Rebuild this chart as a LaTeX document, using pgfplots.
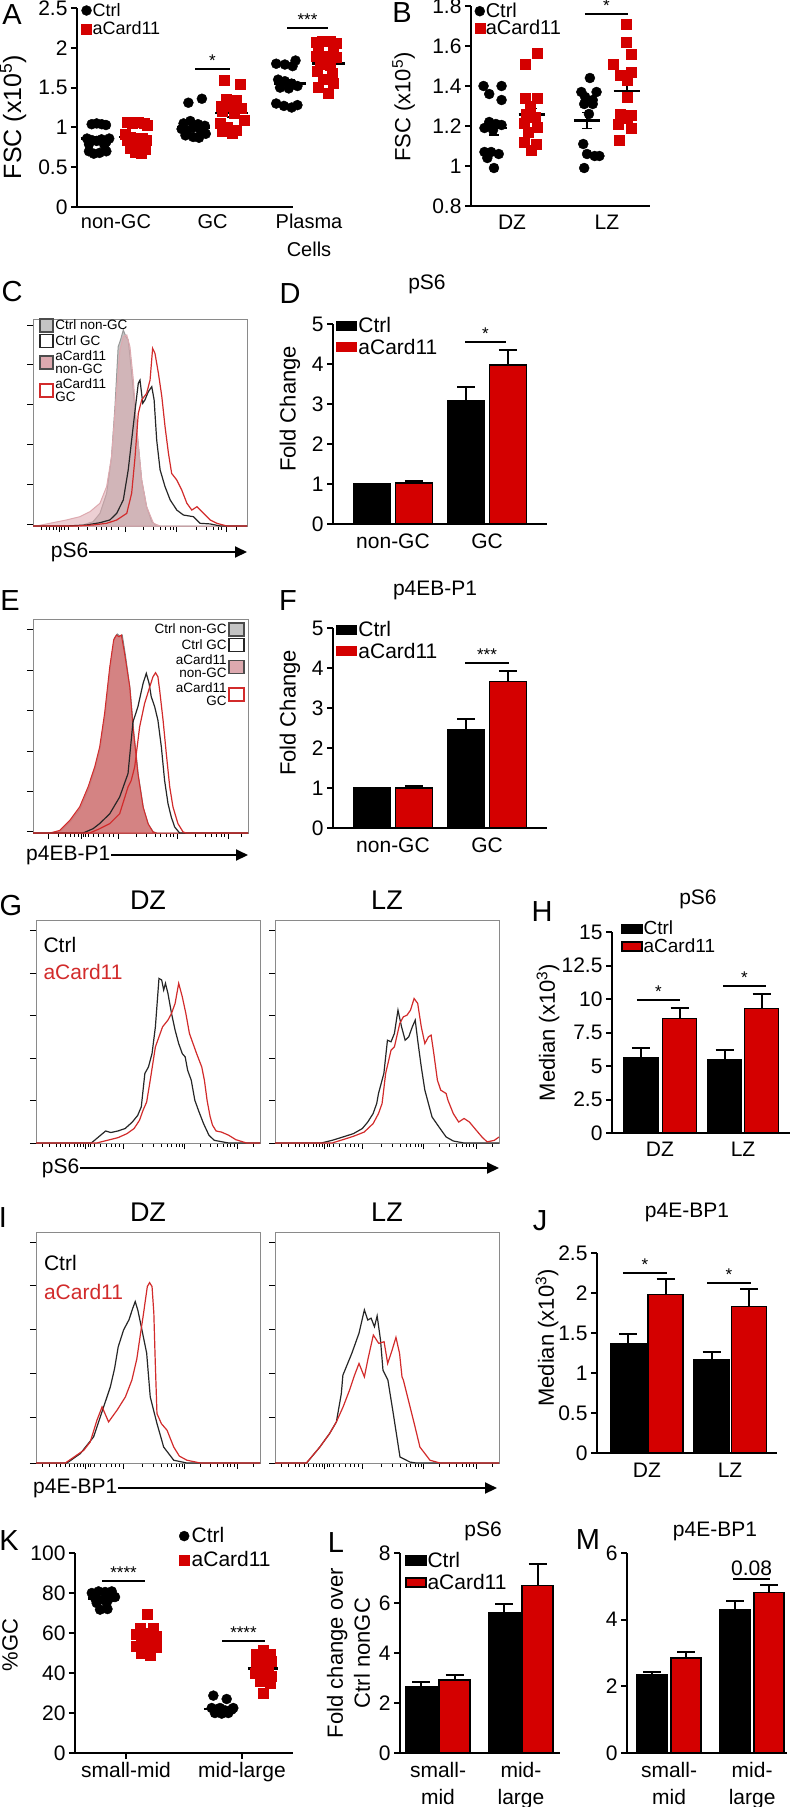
\documentclass[border=0pt]{standalone}
\usepackage{fontspec}
\setmainfont{Liberation Sans}
\usepackage{pgfplots}
\pgfplotsset{compat=1.18}
\usetikzlibrary{arrows.meta}

\definecolor{cred}{HTML}{D40000}
\definecolor{hred}{HTML}{D22B2B}
\definecolor{hblk}{HTML}{262626}
\definecolor{hgray}{HTML}{C4C4C4}
\definecolor{hpink}{HTML}{DDA9AF}
\definecolor{hsalmon}{HTML}{D77878}
\definecolor{fgray}{HTML}{8A8A8A}

\newcommand{\fs}[1]{\fontsize{#1}{#1}\selectfont}
% mean line + SEM whiskers (dot plots)
\newcommand{\meansem}[4]{%
  \draw[line width=2.5pt] (axis cs:#1-#4,#2) -- (axis cs:#1+#4,#2);
  \draw[line width=1.6pt] (axis cs:#1,#2-#3) -- (axis cs:#1,#2+#3);
  \draw[line width=1.6pt] (axis cs:#1-0.05,#2+#3) -- (axis cs:#1+0.05,#2+#3);
  \draw[line width=1.6pt] (axis cs:#1-0.05,#2-#3) -- (axis cs:#1+0.05,#2-#3);}
% significance bar
\newcommand{\sig}[4]{%
  \draw[line width=2pt] (axis cs:#1,#3) -- (axis cs:#2,#3)
    node[midway, above, inner sep=1.5pt, font=\fs{17}] {#4};}

\pgfplotsset{
  every axis/.append style={scale only axis, clip=false, anchor=south west,
    /pgf/number format/assume math mode=true},
  prism/.style={
    axis lines*=left,
    axis line style={line width=2pt},
    every outer x axis line/.append style={-},
    every outer y axis line/.append style={-},
    tick style={black, line width=2pt},
    tick align=outside, major tick length=6pt,
    xtick style={draw=none},
    tick label style={font=\fs{21}},
    ylabel style={font=\fs{22}, anchor=center},
    title style={font=\fs{21}, anchor=center},
    legend style={draw=none, fill=none, font=\fs{21}, inner sep=0pt,
      nodes={inner sep=1pt}},
    legend cell align=left,
  },
  barleg/.style={legend image code/.code={%
    \draw[##1, line width=1pt] (0pt,-4.5pt) rectangle (20pt,4.5pt);}},
  dotleg/.style={legend image code/.code={%
    \draw[##1] plot coordinates {(5pt,0pt)};}},
  pbar/.style={ybar, bar shift=0pt, bar width=#1, draw=black, line width=1.5pt,
    error bars/y dir=plus, error bars/y explicit,
    error bars/error mark=|,
    error bars/error bar style={line width=2pt, black},
    error bars/error mark options={line width=2pt, mark size=9pt, black}},
  histo/.style={
    xmin=0, xmax=100, ymin=0, ymax=100,
    axis line style={draw=fgray, line width=0.8pt},
    tick align=outside, xtick pos=left, ytick pos=left,
    major tick length=6pt, minor tick length=3.5pt,
    tick style={black, line width=1pt},
    xticklabels={}, yticklabels={},
    minor y tick num=4,
    title style={font=\fs{27}, anchor=center, at={(axis description cs:0.5,1.06)}},
  },
  gtick/.style={xtick={22.3,39,66.1,90},
    minor xtick={3,6,9,11,13,15,17,18.5,20,21,23.5,24.5,26,29,31.5,33.5,35.5,37.2,47.5,52.5,56,58.5,60.5,62.5,64,65.2,73.5,78,81,83.5,85.5,87,88.5,97}},
}

\begin{document}
\begin{tikzpicture}
\fill[white] (0pt,0pt) rectangle (791pt,-1807pt);
\useasboundingbox (0pt,0pt) rectangle (791pt,-1807pt);

% ---------------- A
\begin{axis}[prism, at={(77pt,-207pt)}, width=216pt, height=199pt,
  xmin=-0.404, xmax=1.834, ymin=0, ymax=2.5, xtick=\empty,
  ytick={0,0.5,1,1.5,2,2.5},
  ylabel={FSC (x10\textsuperscript{5})},
  ylabel style={at={(axis description cs:-0.296,0.452)}, font=\fs{25}},
  dotleg,
  legend style={at={(axis description cs:0.02,1.03)}, anchor=north west, font=\fs{18}, row sep=2pt}]
\addplot[only marks, mark=*, mark size=5pt, black] coordinates {
 (-0.252,1.04) (-0.2,1.05) (-0.148,1.04) (-0.104,1.03) (-0.30,0.86) (-0.25,0.84) (-0.20,0.83) (-0.15,0.85)
 (-0.10,0.82) (-0.07,0.86) (-0.28,0.79) (-0.12,0.78) (-0.28,0.70) (-0.23,0.67) (-0.17,0.68) (-0.10,0.70)
 (0.75,1.31) (0.89,1.36) (0.70,1.05) (0.77,1.08) (0.85,1.04) (0.92,1.02) (0.68,0.98) (0.74,0.96)
 (0.80,1.00) (0.88,0.95) (0.72,0.90) (0.80,0.88) (0.86,0.87) (0.93,0.92)
 (1.66,1.80) (1.75,1.79) (1.86,1.84) (1.83,1.77) (1.68,1.60) (1.75,1.58) (1.82,1.55) (1.88,1.52)
 (1.70,1.50) (1.79,1.49) (1.66,1.30) (1.74,1.27) (1.82,1.25) (1.88,1.28)};
\addlegendentry{Ctrl}
\addplot[only marks, mark=square*, mark size=5pt, cred] coordinates {
 (0.12,1.06) (0.17,1.05) (0.23,1.06) (0.29,1.05) (0.32,1.03) (0.10,0.92) (0.15,0.88) (0.21,0.86)
 (0.27,0.87) (0.31,0.84) (0.12,0.84) (0.26,0.80) (0.15,0.74) (0.20,0.69) (0.26,0.68) (0.30,0.72)
 (1.12,1.59) (1.29,1.54) (1.14,1.36) (1.25,1.34) (1.09,1.27) (1.20,1.27) (1.30,1.24) (1.10,1.20)
 (1.22,1.18) (1.33,1.09) (1.08,1.05) (1.15,1.00) (1.25,0.96) (1.20,0.93) (1.10,0.95)
 (2.07,2.07) (2.14,2.08) (2.22,2.08) (2.28,2.06) (2.10,1.97) (2.25,1.97) (2.07,1.90) (2.18,1.90)
 (2.28,1.88) (2.12,1.80) (2.22,1.78) (2.08,1.70) (2.24,1.68) (2.15,1.60) (2.25,1.55) (2.10,1.50) (2.20,1.43)};
\addlegendentry{aCard11}
\meansem{-0.197}{0.86}{0.02}{0.17}
\meansem{0.2}{0.88}{0.03}{0.17}
\meansem{0.803}{1.00}{0.03}{0.17}
\meansem{1.2}{1.18}{0.05}{0.17}
\meansem{1.803}{1.55}{0.05}{0.17}
\meansem{2.2}{1.80}{0.04}{0.17}
\sig{0.819}{1.181}{1.73}{*}
\sig{1.772}{2.197}{2.25}{***}
\node[anchor=north, inner sep=0pt, font=\fs{20}, yshift=-7pt] at (axis cs:0,0) {non-GC};
\node[anchor=north, inner sep=0pt, font=\fs{20}, yshift=-7pt] at (axis cs:1,0) {GC};
\node[anchor=north, inner sep=0pt, align=center, font=\fontsize{20}{28}\selectfont, yshift=-7pt] at (axis cs:2,0) {Plasma\\Cells};
\end{axis}

% ---------------- B
\begin{axis}[prism, at={(471pt,-206pt)}, width=179pt, height=200pt,
  xmin=-0.432, xmax=1.453, ymin=0.8, ymax=1.8,
  ytick={0.8,1,1.2,1.4,1.6,1.8}, xtick={0,1}, xticklabels={DZ,LZ},
  ylabel={FSC (x10\textsuperscript{5})},
  ylabel style={at={(axis description cs:-0.377,0.495)}},
  dotleg,
  legend style={at={(axis description cs:0.02,1.02)}, anchor=north west, font=\fs{20}, row sep=-1pt}]
\addplot[only marks, mark=*, mark size=5pt, black] coordinates {
 (-0.30,1.40) (-0.11,1.40) (-0.24,1.36) (-0.11,1.33) (-0.24,1.22) (-0.17,1.21) (-0.11,1.205) (-0.29,1.19)
 (-0.20,1.18) (-0.29,1.07) (-0.22,1.07) (-0.14,1.06) (-0.26,1.04) (-0.19,0.99)
 (0.82,1.44) (0.73,1.37) (0.89,1.37) (0.77,1.345) (0.85,1.33) (0.76,1.31) (0.85,1.31) (0.81,1.26)
 (0.75,1.11) (0.79,1.06) (0.87,1.05) (0.92,1.05) (0.76,0.99)};
\addlegendentry{Ctrl}
\addplot[only marks, mark=square*, mark size=5pt, cred] coordinates {
 (0.137,1.51) (0.26,1.565) (0.137,1.34) (0.26,1.34) (0.19,1.30) (0.15,1.26) (0.24,1.245) (0.13,1.215)
 (0.26,1.195) (0.17,1.17) (0.13,1.12) (0.25,1.11) (0.20,1.08)
 (1.2,1.71) (1.2,1.62) (1.26,1.557) (1.07,1.507) (1.26,1.47) (1.14,1.453) (1.21,1.428) (1.21,1.345)
 (1.14,1.26) (1.26,1.253) (1.21,1.237) (1.12,1.21) (1.26,1.19) (1.13,1.128)};
\addlegendentry{aCard11}
\meansem{-0.19}{1.19}{0.035}{0.14}
\meansem{0.21}{1.258}{0.03}{0.14}
\meansem{0.79}{1.228}{0.04}{0.14}
\meansem{1.21}{1.375}{0.045}{0.14}
\sig{0.768}{1.221}{1.758}{*}
\end{axis}

% ---------------- C (histogram)
\begin{axis}[histo, at={(33pt,-526pt)}, width=214pt, height=207pt,
  ytick={0.8,20.1,39.5,58.8,78.1,97.1},
  xtick={12.2,43,67.2,90.3},
  minor xtick={3.9,6.25,7.8,9.4,10.9,13.3,14.8,16.4,21.1,25.3,29.7,32,34.4,36.7,39.8,51.6,56.3,59.4,61.7,64.1,65.6,76.6,81.3,84.4,86.7,88.3,95.3},
  legend style={at={(axis description cs:0.028,1.005)}, anchor=north west, draw=none, fill=none,
    font=\fs{13.5}, row sep=1pt, inner sep=0pt, nodes={inner sep=1.5pt}},
  legend cell align=left,
  legend image code/.code={\draw[#1, line width=1.6pt] (0pt,-6.5pt) rectangle (13pt,6.5pt);}]
\addlegendimage{fill=hgray, draw=black!70}\addlegendentry{Ctrl non-GC}
\addlegendimage{fill=white, draw=black!85}\addlegendentry{Ctrl GC}
\addlegendimage{fill=hpink, draw=black!70}\addlegendentry{\shortstack[l]{aCard11\\non-GC}}
\addlegendimage{fill=white, draw=hred}\addlegendentry{\shortstack[l]{aCard11\\GC}}
\addplot[forget plot, fill=hgray, draw=gray!80, line width=1pt] coordinates {
 (0,0) (21.9,0) (23.4,0.5) (28.1,2.1) (31.3,6.1) (34.4,15.8) (36.7,33.5) (38.3,57.6) (39.8,86.6)
 (40.9,89.9) (42.2,94.7) (43.4,91.5) (44.5,89.9) (46.1,73.8) (48.4,48.0) (50.8,22.2) (53.1,9.3)
 (55.5,2.1) (57.8,0) (100,0)} \closedcycle;
\addplot[forget plot, fill=hpink, fill opacity=0.55, draw=hpink, line width=1pt] coordinates {
 (0,0) (1.6,0) (7.8,1.3) (15.6,2.9) (21.9,4.5) (26.6,6.9) (31.3,11.0) (34.4,19.0) (36.7,33.5) (39.1,65.7)
 (40.6,85.0) (42.2,91.5) (43.8,92.3) (45.3,86.6) (46.9,70.5) (48.4,48.0) (50.8,22.2) (53.1,9.3)
 (56.3,1.3) (59.4,0) (100,0)} \closedcycle;
\addplot[forget plot, hblk, line width=1.2pt] coordinates {
 (0,0) (15.6,0) (25,0.5) (31.3,1.6) (35.9,2.9) (39.1,6.1) (42.2,12.6) (44.5,27.1) (46.1,41.5) (47.7,56.0)
 (49.2,68.9) (50,70.5) (51.3,59.3) (52.3,60.9) (53.9,64.9) (55.5,67.3) (56.6,60.9) (57.8,41.5) (59.4,27.1)
 (61.7,19.0) (64.1,12.6) (67.2,7.7) (70.3,5.3) (75,4.5) (78.1,1.3) (82.8,1.0) (87.5,0) (100,0)};
\addplot[forget plot, hred, line width=1.2pt] coordinates {
 (0,0) (20.3,0) (28.1,0.5) (34.4,1.3) (39.1,2.9) (43.8,6.1) (46.1,15.8) (47.7,33.5) (49.2,54.4) (50.8,60.9)
 (53.1,64.1) (54.7,70.5) (55.9,85.8) (57.0,83.4) (58.6,73.8) (60.2,62.5) (61.7,48.0) (63.3,35.1) (64.8,25.4)
 (67.2,22.2) (69.5,17.4) (71.9,11.0) (74.2,7.7) (76.6,9.3) (79.7,6.1) (82.8,2.9) (85.9,1.3) (90.6,0) (100,0)};
\end{axis}

% ---------------- D
\begin{axis}[prism, at={(333pt,-524pt)}, width=214pt, height=200pt,
  xmin=-0.638, xmax=1.638, ymin=0, ymax=5, ytick={0,1,2,3,4,5},
  xtick={0,1}, xticklabels={non-GC,GC},
  ylabel={Fold Change}, ylabel style={at={(axis description cs:-0.201,0.575)}},
  title={pS6}, title style={at={(axis description cs:0.439,1.17)}},
  barleg, legend style={at={(axis description cs:0.015,1.04)}, anchor=north west, row sep=3pt}]
\addlegendimage{fill=black, draw=black}\addlegendentry{Ctrl}
\addlegendimage{fill=cred, draw=cred}\addlegendentry{aCard11}
\addplot[forget plot, pbar=0.394, fill=black] coordinates {(-0.223,1.0) +- (0,0) (0.777,3.08) +- (0,0.35)};
\addplot[forget plot, pbar=0.394, fill=cred] coordinates {(0.223,1.03) +- (0,0.05) (1.223,3.98) +- (0,0.38)};
\sig{0.766}{1.202}{4.56}{*}
\end{axis}

% ---------------- E (histogram)
\begin{axis}[histo, at={(33pt,-833pt)}, width=215pt, height=214pt,
  ytick={0.5,19.2,38.2,57.1,76.1,94.9},
  xtick={7.4,22.5,39.8,67.4,90.7},
  minor xtick={12,15,17.5,19.5,21,23.5,24.5,26,28,30.5,33,35.5,37.5,48,53,57,59.5,62,64,65.5,75.5,80,83,85.5,87.5,89,97},
  legend style={at={(axis description cs:0.986,0.986)}, anchor=north east, draw=none, fill=none,
    font=\fs{13.5}, row sep=1pt, inner sep=0pt, nodes={inner sep=1.5pt}},
  legend cell align=right, legend plot pos=right,
  legend image code/.code={\draw[#1, line width=1.6pt] (0pt,-6.5pt) rectangle (15pt,6.5pt);}]
\addlegendimage{fill=hgray, draw=black!70}\addlegendentry{Ctrl non-GC}
\addlegendimage{fill=white, draw=black!85}\addlegendentry{Ctrl GC}
\addlegendimage{fill=hpink, draw=black!70}\addlegendentry{\shortstack[r]{aCard11\\non-GC}}
\addlegendimage{fill=white, draw=hred}\addlegendentry{\shortstack[r]{aCard11\\GC}}
\addplot[forget plot, fill=hgray, draw=gray, line width=1pt] coordinates {
 (0,0) (8.5,0) (13,1) (17.5,5.5) (22,11.5) (26,21) (29,30.5) (31.3,40) (33.6,56) (36,78) (37.8,91)
 (39.2,93) (40.4,92) (41.5,92.5) (43,83) (45.2,67) (46.8,48) (49,27) (51.4,11.5) (53.7,4) (56,0.5)
 (57.6,0) (100,0)} \closedcycle;
\addplot[forget plot, fill=hsalmon, fill opacity=0.85, draw=hred, line width=1pt] coordinates {
 (0,0) (7.8,0) (12.4,1.2) (17.1,5.9) (21.7,12.2) (25.6,21.5) (28.7,30.9) (31.0,40.2) (33.3,55.9)
 (35.7,77.7) (37.5,90.2) (38.8,92.5) (40.0,91.7) (41.1,92.5) (42.6,83.9) (45.0,68.3) (46.5,49.6)
 (48.8,27.8) (51.2,12.2) (53.5,4.4) (55.8,0.5) (57.4,0) (100,0)} \closedcycle;
\addplot[forget plot, hblk, line width=1.2pt] coordinates {
 (0,0) (23.3,0) (27.9,2.0) (31.0,4.4) (35.7,9.0) (40.3,16.8) (44.2,27.8) (46.5,51.9) (48.8,59.0)
 (51.2,69.9) (52.7,74.6) (54.0,69.9) (55.0,63.7) (56.6,59.0) (58.1,52.7) (59.7,40.2) (61.2,24.6)
 (62.8,13.7) (64.3,7.5) (65.9,2.8) (68.2,0) (100,0)};
\addplot[forget plot, hred, line width=1.2pt] coordinates {
 (0,0) (26.4,0) (31.0,2.0) (35.7,4.4) (40.3,9.0) (44.2,21.5) (45.7,24.6) (47.3,30.9) (49.6,49.6)
 (51.9,60.5) (54.3,68.3) (55.8,73.0) (57.0,74.9) (58.1,73.0) (58.9,66.8) (60.5,52.7) (62.0,37.1)
 (63.6,21.5) (65.1,12.2) (67.4,4.4) (69.8,0.5) (71.3,0) (100,0)};
\end{axis}

% ---------------- F
\begin{axis}[prism, at={(333pt,-828pt)}, width=214pt, height=200pt,
  xmin=-0.638, xmax=1.638, ymin=0, ymax=5, ytick={0,1,2,3,4,5},
  xtick={0,1}, xticklabels={non-GC,GC},
  ylabel={Fold Change}, ylabel style={at={(axis description cs:-0.201,0.575)}},
  title={p4EB-P1}, title style={at={(axis description cs:0.477,1.16)}},
  barleg, legend style={at={(axis description cs:0.015,1.04)}, anchor=north west, row sep=3pt}]
\addlegendimage{fill=black, draw=black}\addlegendentry{Ctrl}
\addlegendimage{fill=cred, draw=cred}\addlegendentry{aCard11}
\addplot[forget plot, pbar=0.394, fill=black] coordinates {(-0.223,1.0) +- (0,0) (0.777,2.45) +- (0,0.27)};
\addplot[forget plot, pbar=0.394, fill=cred] coordinates {(0.223,1.0) +- (0,0.05) (1.223,3.66) +- (0,0.27)};
\sig{0.766}{1.234}{4.13}{***}
\end{axis}

% ---------------- G (histograms, pS6)
\begin{axis}[histo, gtick, at={(36pt,-1143pt)}, width=224pt, height=223pt,
  ytick={0,19,38.1,57.1,76.2,95.3}, title={DZ}]
\addplot[hblk, line width=1.2pt] coordinates {
 (0,0) (24.7,0) (27.9,2.7) (31.1,5.4) (33.4,4.7) (36.6,5.4) (39.8,6.5) (43.0,9.4) (45.4,12.4) (47.0,16.2)
 (48.6,31.2) (50.2,34.1) (51.8,40.1) (53.3,52.1) (54.9,73.8) (56.1,73.1) (57.0,68.6) (57.8,71.6) (58.9,67.1)
 (60.5,58.1) (62.1,50.6) (63.7,44.6) (65.3,40.1) (66.6,38.6) (67.7,32.6) (69.3,28.2) (70.9,19.2) (72.5,14.7)
 (74.8,8.7) (77.2,3.5) (79.6,1.2) (86.0,0) (100,0)};
\addplot[hred, line width=1.2pt] coordinates {
 (0,0) (27.1,0) (31.8,1.2) (36.6,2.4) (40.6,4.2) (43.8,6.5) (46.2,10.2) (47.8,14.7) (49.4,18.4) (51.0,28.2)
 (53.3,43.1) (56.5,52.1) (58.9,55.1) (60.5,58.1) (62.1,62.6) (63.7,71.6) (65.3,65.6) (66.9,58.1) (68.5,49.1)
 (70.1,44.6) (71.7,40.1) (74.0,34.1) (75.2,28) (76.4,19) (77.7,12) (78.8,8) (80.4,5.4) (82.8,4.9)
 (86.0,3.5) (89.2,1.5) (94.0,0) (100,0)};
\node[anchor=west, font=\fs{21}] at (axis description cs:0.018,0.888) {Ctrl};
\node[anchor=west, font=\fs{21}, text=hred] at (axis description cs:0.018,0.768) {aCard11};
\end{axis}
\begin{axis}[histo, gtick, at={(275pt,-1143pt)}, width=224pt, height=223pt,
  ytick={0,19,38.1,57.1,76.2,95.3}, title={LZ}]
\addplot[hblk, line width=1.2pt] coordinates {
 (0,0) (20.7,0) (25.5,1.2) (30.3,2.7) (35.0,4.2) (39.0,6.5) (41.4,9.4) (43.8,13.2) (45.4,17.7) (46.2,22.2)
 (48.6,31.2) (50.2,46.1) (51.8,45.4) (53.3,49.1) (54.9,59.6) (56.5,52.1) (58.1,46.1) (59.7,47.6) (61.3,52.1)
 (62.6,55.1) (63.7,46.1) (65.3,34.1) (66.9,23.7) (68.5,17.7) (70.1,11.7) (73.2,7.2) (76.4,2.7) (79.6,0.9)
 (84.4,0) (100,0)};
\addplot[hred, line width=1.2pt] coordinates {
 (0,0) (25.5,0) (30.3,1.5) (35.0,3.0) (39.8,4.9) (43.8,8.7) (46.2,13.2) (47.8,17.7) (49.4,31.2) (51.8,41.6)
 (53.3,43.1) (55.7,53.6) (57.3,56.6) (58.9,57.3) (60.5,59.6) (62.1,64.8) (63.7,62.6) (65.3,52.1) (66.9,44.6)
 (68.5,47.6) (69.7,48.4) (70.9,40.1) (72.5,28.2) (74.0,23.7) (76.4,22.2) (77.2,19.2) (79.6,13.2) (82.0,9.4)
 (84.4,11.0) (86.8,9.4) (89.2,6.5) (92.4,2.7) (94.7,0.5) (97.9,1.2) (100,2.7)};
\end{axis}

% ---------------- H
\begin{axis}[prism, at={(612pt,-1133pt)}, width=178pt, height=201pt,
  xmin=-0.578, xmax=1.566, ymin=0, ymax=15, ytick={0,2.5,5,7.5,10,12.5,15},
  xtick={0,1}, xticklabels={DZ,LZ},
  ylabel={Median (x10\textsuperscript{3})}, ylabel style={at={(axis description cs:-0.36,0.5)}},
  title={pS6}, title style={at={(axis description cs:0.483,1.131)}},
  barleg, legend image code/.code={\draw[#1, line width=1.5pt] (0pt,-4.5pt) rectangle (20pt,4.5pt);},
  legend style={at={(axis description cs:0.05,1.06)}, anchor=north west, font=\fs{19}, row sep=0.5pt}]
\addlegendimage{fill=black, draw=black}\addlegendentry{Ctrl}
\addlegendimage{fill=cred, draw=black}\addlegendentry{aCard11}
\addplot[forget plot, pbar=0.41, fill=black] coordinates {(-0.229,5.58) +- (0,0.79) (0.777,5.5) +- (0,0.7)};
\addplot[forget plot, pbar=0.41, fill=cred] coordinates {(0.235,8.56) +- (0,0.79) (1.223,9.3) +- (0,1.07)};
\sig{-0.277}{0.241}{9.92}{*}
\sig{0.759}{1.277}{10.96}{*}
\end{axis}

% ---------------- I (histograms, p4E-BP1)
\begin{axis}[histo, gtick, at={(36pt,-1463pt)}, width=224pt, height=231pt,
  ytick={0,19.6,38.9,57.7,76.8,95.6}, title={DZ}]
\addplot[hblk, line width=1.2pt] coordinates {
 (0,0) (13.8,0) (19.8,4.1) (25.7,11.3) (30.2,24.3) (33.2,33) (35.1,41) (36.7,50.3) (39.1,57.6) (41.5,62)
 (43.2,67) (44.3,69.9) (45.5,66) (47,59) (49.4,47.6) (51,28.6) (54,17.1) (57,6.9) (61.5,1.2) (67.4,0) (100,0)};
\addplot[hred, line width=1.2pt] coordinates {
 (0,0) (13.1,0) (21.3,5.5) (24.2,9.1) (27.2,18.5) (29.5,24.3) (32.4,17.8) (36.2,22.9) (39.9,28.6) (42.8,35.9)
 (45,45) (46.5,55) (47.8,63.4) (49.7,76.4) (50.7,78.1) (51.8,76.4) (52.6,65) (53.2,45) (54,21.4) (56,17)
 (58.5,14.2) (61.5,6.9) (64,3) (67.4,1.2) (73.4,0) (100,0)};
\node[anchor=west, font=\fs{21}] at (axis description cs:0.02,0.866) {Ctrl};
\node[anchor=west, font=\fs{21}, text=hred] at (axis description cs:0.02,0.742) {aCard11};
\end{axis}
\begin{axis}[histo, gtick, at={(275pt,-1463pt)}, width=224pt, height=231pt,
  ytick={0,19.6,38.9,57.7,76.8,95.6}, title={LZ}]
\addplot[hblk, line width=1.2pt] coordinates {
 (0,0) (14.1,0) (20,6.9) (24.4,12.8) (27.4,17.8) (29.6,30) (30.3,38) (34.3,47.5) (37.5,56.2) (39.9,66.3)
 (41.4,61.9) (42.9,62.7) (44.4,59) (45.6,63.7) (47.1,53.3) (48.2,40.2) (50.4,35.9) (52.8,21.4) (55.8,2.6)
 (60.3,0.4) (63,0) (100,0)};
\addplot[hred, line width=1.2pt] coordinates {
 (0,0) (14,0) (20,6.9) (24.4,12.8) (27.4,17.8) (30.4,24.3) (33.3,31.6) (35.5,38) (37.5,43.1) (39.9,37.3)
 (41.5,45) (43.9,55.4) (46.3,51.8) (48.7,52.5) (50.3,43.1) (52,48) (54,54.4) (55.6,47.5) (56.7,37.3)
 (57.3,35.9) (61.8,18.5) (64.7,6.9) (69.2,1.2) (73.7,0) (100,0)};
\end{axis}

% ---------------- J
\begin{axis}[prism, at={(597pt,-1453pt)}, width=180pt, height=200pt,
  xmin=-0.602, xmax=1.566, ymin=0, ymax=2.5, ytick={0,0.5,1,1.5,2,2.5},
  xtick={0,1}, xticklabels={DZ,LZ},
  ylabel={Median (x10\textsuperscript{3})}, ylabel style={at={(axis description cs:-0.278,0.575)}},
  title={p4E-BP1}, title style={at={(axis description cs:0.5,1.175)}}]
\addplot[pbar=0.42, fill=black] coordinates {(-0.223,1.37) +- (0,0.12) (0.777,1.17) +- (0,0.09)};
\addplot[pbar=0.42, fill=cred] coordinates {(0.223,1.98) +- (0,0.19) (1.229,1.83) +- (0,0.22)};
\sig{-0.289}{0.241}{2.25}{*}
\sig{0.723}{1.253}{2.13}{*}
\end{axis}

% ---------------- K
\begin{axis}[prism, at={(75pt,-1753pt)}, width=218pt, height=200pt,
  xmin=-0.44, xmax=1.44, ymin=0, ymax=100, ytick={0,20,40,60,80,100},
  xtick={0,1}, xticklabels={small-mid,mid-large}, xtick style={draw=black},
  ylabel={\%GC}, ylabel style={at={(axis description cs:-0.298,0.54)}},
  dotleg, legend image code/.code={\draw[#1] plot coordinates {(6pt,0pt)};},
  legend style={at={(axis description cs:0.477,1.14)}, anchor=north west, row sep=2pt,
    nodes={inner sep=2.5pt}}]
\addplot[only marks, mark=*, mark size=5pt, black] coordinates {
 (-0.295,80) (-0.237,80.8) (-0.18,80.5) (-0.123,80.8) (-0.267,77.5) (-0.195,76.7) (-0.138,77.5) (-0.095,78)
 (-0.253,75) (-0.166,75.3) (-0.224,71.7) (-0.16,72)
 (0.753,28.7) (0.868,27) (0.739,22.5) (0.796,21.7) (0.854,21.3) (0.911,21.7) (0.767,20) (0.825,19.7)
 (0.882,20) (0.81,22.5) (0.925,22.5)};
\addlegendentry{Ctrl}
\addplot[only marks, mark=square*, mark size=5pt, cred] coordinates {
 (0.184,69.2) (0.121,62.5) (0.236,62.5) (0.092,59.2) (0.178,60) (0.264,58.3) (0.135,55.8) (0.221,55)
 (0.092,53.3) (0.178,52.5) (0.258,52.8) (0.135,50) (0.207,48.7)
 (1.184,51.3) (1.126,49.2) (1.241,49.2) (1.184,46.7) (1.126,45) (1.255,45.8) (1.155,42.5) (1.227,41.7)
 (1.112,40) (1.198,39.2) (1.255,38.3) (1.155,35.8) (1.241,35) (1.184,30)};
\addlegendentry{aCard11}
\meansem{-0.198}{77.2}{0.8}{0.13}
\meansem{0.181}{57.2}{1.5}{0.13}
\meansem{0.802}{22}{0.8}{0.13}
\meansem{1.181}{42.2}{2}{0.13}
\sig{-0.207}{0.164}{85.8}{****}
\sig{0.828}{1.198}{55.8}{****}
\end{axis}

% ---------------- L
\begin{axis}[prism, at={(400pt,-1753pt)}, width=160pt, height=200pt,
  xmin=-0.458, xmax=1.47, ymin=0, ymax=8, ytick={0,2,4,6,8},
  xtick={0,1}, xticklabels={{small-\\mid},{mid-\\large}},
  xticklabel style={align=center, font=\fontsize{21}{27}\selectfont},
  ylabel={Fold change over\\Ctrl nonGC},
  ylabel style={align=center, font=\fontsize{22}{27}\selectfont, at={(axis description cs:-0.322,0.5)}},
  title={pS6}, title style={at={(axis description cs:0.519,1.08)}},
  barleg, legend image code/.code={\draw[#1, line width=1.5pt] (0pt,-4.5pt) rectangle (20pt,4.5pt);},
  legend style={at={(axis description cs:0.03,1.01)}, anchor=north west, row sep=3pt}]
\addlegendimage{fill=black, draw=black}\addlegendentry{Ctrl}
\addlegendimage{fill=cred, draw=black}\addlegendentry{aCard11}
\addplot[forget plot, pbar=0.373, fill=black] coordinates {(-0.2,2.67) +- (0,0.16) (0.8,5.6) +- (0,0.37)};
\addplot[forget plot, pbar=0.373, fill=cred] coordinates {(0.2,2.93) +- (0,0.2) (1.2,6.71) +- (0,0.85)};
\end{axis}

% ---------------- M
\begin{axis}[prism, at={(627pt,-1753pt)}, width=160pt, height=200pt,
  xmin=-0.506, xmax=1.42, ymin=0, ymax=6, ytick={0,2,4,6},
  xtick={0,1}, xticklabels={{small-\\mid},{mid-\\large}},
  xticklabel style={align=center, font=\fontsize{21}{27}\selectfont},
  title={p4E-BP1}, title style={at={(axis description cs:0.55,1.08)}}]
\addplot[pbar=0.36, fill=black] coordinates {(-0.205,2.35) +- (0,0.08) (0.795,4.3) +- (0,0.25)};
\addplot[pbar=0.36, fill=cred] coordinates {(0.205,2.85) +- (0,0.17) (1.205,4.82) +- (0,0.21)};
\draw[line width=2pt] (axis cs:0.771,5.22) -- (axis cs:1.217,5.22)
  node[midway, above, inner sep=2pt, font=\fs{21}] {0.08};
\end{axis}

% ---------------- histogram axis arrows
\node[font=\fs{21}, anchor=east, inner sep=0.5pt] at (89pt,-552pt) {pS6};
\draw[line width=2pt, -{Triangle[length=12pt,width=11pt]}] (89pt,-552pt) -- (247pt,-552pt);
\node[font=\fs{21}, anchor=east, inner sep=0.5pt] at (111pt,-855pt) {p4EB-P1};
\draw[line width=2pt, -{Triangle[length=12pt,width=11pt]}] (111pt,-855pt) -- (248pt,-855pt);
\node[font=\fs{21}, anchor=east, inner sep=0.5pt] at (80pt,-1168pt) {pS6};
\draw[line width=2pt, -{Triangle[length=12pt,width=11pt]}] (80pt,-1168pt) -- (499pt,-1168pt);
\node[font=\fs{21}, anchor=east, inner sep=0.5pt] at (118pt,-1488pt) {p4E-BP1};
\draw[line width=2pt, -{Triangle[length=12pt,width=11pt]}] (118pt,-1488pt) -- (497pt,-1488pt);

% ---------------- panel letters
\foreach \l/\x/\y in {A/12/15, B/402/13, C/12/292, D/290/294, E/10/601, F/288/601, G/11/906,
  H/542/912, I/3/1218, J/540/1221, K/9/1541, L/336/1543, M/588/1540}
  \node[font=\fs{29}, inner sep=0pt] at (\x pt,-\y pt) {\l};
\end{tikzpicture}
\end{document}
